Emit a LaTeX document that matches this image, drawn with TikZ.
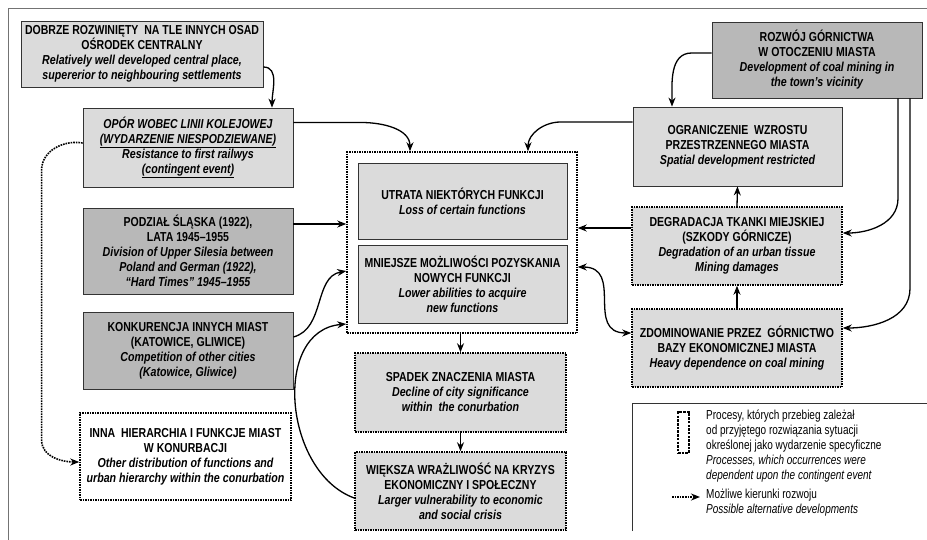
\documentclass[tikz,border=0pt]{standalone}
\usepackage{fontspec}
\setmainfont[FakeStretch=0.77]{Liberation Sans}
\newfontfamily\capfont[Ligatures=TeX,FakeStretch=0.81]{Liberation Sans}
\newfontfamily\enfont[Ligatures=TeX,FakeStretch=0.82]{Liberation Sans}
\usetikzlibrary{arrows.meta}
\definecolor{lightfill}{gray}{0.86}
\definecolor{darkfill}{gray}{0.72}
\definecolor{framegray}{gray}{0.45}
\newcommand{\plt}[1]{{\capfont\bfseries #1}}
\newcommand{\plit}[1]{{\capfont\bfseries\itshape #1}}
\newcommand{\ent}[1]{{\enfont\bfseries\itshape #1}}

\begin{document}
\begin{tikzpicture}[x=1pt,y=-1pt,>={Stealth[length=9pt,width=7pt]},
  every node/.style={font=\fontsize{13}{15}\selectfont,align=center,inner sep=0pt},
  lightbox/.style={draw=black!80,line width=0.8pt,fill=lightfill},
  darkbox/.style={lightbox,fill=darkfill},
  eventbox/.style={draw=black,line width=1.5pt,densely dotted,fill=#1},
  eventbox/.default=lightfill,
  link/.style={->,line width=1.3pt},
  both/.style={<->,line width=1.3pt},
  altlink/.style={->,line width=1.6pt,densely dotted}]
\useasboundingbox (0,0) rectangle (927,539);
\draw[framegray,line width=0.8pt] (8,545) |- (935,8);

% left column
\node[lightbox,minimum width=242,minimum height=66] (centre) at (142,54)
  {\plt{DOBRZE ROZWINIĘTY\ \ NA TLE INNYCH OSAD}\\\plt{OŚRODEK CENTRALNY}\\
   \ent{Relatively well developed central place,}\\\ent{supererior to neighbouring settlements}};
\node[lightbox,minimum width=210,minimum height=79] (resist) at (188,147.5)
  {\plit{OPÓR WOBEC LINII KOLEJOWEJ}\\\plit{\underline{(WYDARZENIE NIESPODZIEWANE)}}\\
   \ent{Resistance to first railwys}\\\ent{\underline{(contingent event)}}};
\node[darkbox,minimum width=210,minimum height=86] (division) at (188,251)
  {\plt{PODZIAŁ ŚLĄSKA (1922),}\\\plt{LATA 1945--1955}\\\ent{Division of Upper Silesia between}\\
   \ent{Poland and German (1922),}\\\ent{``Hard Times'' 1945--1955}};
\node[darkbox,minimum width=210,minimum height=77] (compet) at (188,350.5)
  {\plt{KONKURENCJA INNYCH MIAST}\\\plt{(KATOWICE, GLIWICE)}\\
   \ent{Competition of other cities}\\\ent{(Katowice, Gliwice)}};
\node[eventbox=white,minimum width=211,minimum height=87] (hierarchy) at (185.5,456.5)
  {\plt{INNA\ \ HIERARCHIA I FUNKCJE MIAST}\\\plt{W KONURBACJI}\\
   \ent{Other distribution of functions and}\\\ent{urban hierarchy within the conurbation}};

% middle column
\node[eventbox=white,minimum width=230,minimum height=181] (losses) at (462,242.5) {};
\node[lightbox,minimum width=209,minimum height=76] (loss) at (462.5,201)
  {\plt{UTRATA NIEKTÓRYCH FUNKCJI}\\\ent{Loss of certain functions}};
\node[lightbox,minimum width=209,minimum height=78] (lower) at (462.5,284)
  {\plt{MNIEJSZE MOŻLIWOŚCI POZYSKANIA}\\\plt{NOWYCH FUNKCJI}\\
   \ent{Lower abilities to acquire}\\\ent{new functions}};
\node[eventbox,minimum width=211,minimum height=79] (decline) at (460.5,392.5)
  {\plt{SPADEK ZNACZENIA MIASTA}\\\ent{Decline of city significance}\\\ent{within\ \ the conurbation}};
\node[eventbox,minimum width=211,minimum height=78] (crisis) at (460.5,491)
  {\plt{WIĘKSZA WRAŻLIWOŚĆ NA KRYZYS}\\\plt{EKONOMICZNY I SPOŁECZNY}\\
   \ent{Larger vulnerability to economic}\\\ent{and social crisis}};

% right column
\node[darkbox,minimum width=210,minimum height=76] (mining) at (817,60)
  {\plt{ROZWÓJ GÓRNICTWA}\\\plt{W OTOCZENIU MIASTA}\\
   \ent{Development of coal mining in}\\\ent{the town's vicinity}};
\node[lightbox,minimum width=209,minimum height=79] (spatial) at (737.5,146.5)
  {\plt{OGRANICZENIE\ \ WZROSTU}\\\plt{PRZESTRZENNEGO MIASTA}\\\ent{Spatial development restricted}};
\node[eventbox,minimum width=210,minimum height=78] (damage) at (737,246)
  {\plt{DEGRADACJA TKANKI MIEJSKIEJ}\\\plt{(SZKODY GÓRNICZE)}\\
   \ent{Degradation of an urban tissue}\\\ent{Mining damages}};
\node[eventbox,minimum width=210,minimum height=78] (dominance) at (737,348)
  {\plt{ZDOMINOWANIE PRZEZ\ \ GÓRNICTWO}\\\plt{BAZY EKONOMICZNEJ MIASTA}\\
   \ent{Heavy dependence on coal mining}};

% legend
\draw[black!80,line width=0.8pt] (632,531) |- (935,403);
\node[draw,line width=1.3pt,dash pattern=on 2.5pt off 1.2pt,minimum width=11,minimum height=41] (keybox) at (683.5,432.5) {};
\node[anchor=north west,align=left] (keytext) at (706,410)
  {Procesy, których przebieg zależał\\od przyjętego rozwiązania sytuacji\\
   określonej jako wydarzenie specyficzne\\\textit{Processes, which occurrences were}\\
   \textit{dependent upon the contingent event}};
\node[anchor=north west,align=left] (alttext) at (706,489)
  {Możliwe kierunki rozwoju\\\textit{Possible alternative developments}};
\coordinate (altA) at (672,497);
\coordinate (altB) at (700,497);
\draw[altlink] (altA) -- (altB);

% connectors
\draw[link] ([yshift=-13pt]centre.east) to[out=0,in=90] ([xshift=84pt]resist.north);
\draw[link] ([yshift=25pt]resist.east) -- ++(68,0) to[out=0,in=90] ([xshift=-52pt]losses.north);
\draw[link] ([yshift=24.5pt]spatial.west) -- ++(-72,0) to[out=180,in=90] ([xshift=66pt]losses.north);
\draw[link] ([yshift=27pt]division.east) -- ([yshift=18.5pt]losses.west);
\draw[link] ([yshift=13.5pt]compet.east) to[out=15,in=190] ([yshift=-28.5pt]losses.west);
\draw[link] ([yshift=-7pt]crisis.west) to[out=160,in=185,looseness=1.1] ([yshift=-81.5pt]losses.west);
\draw[altlink] ([yshift=4.5pt]resist.west) to[out=170,in=90] ++(-41,27) -- ++(0,270)
  to[out=270,in=180] ([yshift=-5.5pt]hierarchy.west);
\draw[link] (decline.north |- losses.south) -- (decline.north);
\draw[link] (decline.south) -- (crisis.north);
\coordinate (dmg) at ([yshift=18pt]damage.west);
\draw[link] (dmg) -- (dmg -| losses.east);
\draw[both] ([yshift=-24.5pt]losses.east) to[out=0,in=180,looseness=1.4] ([yshift=15pt]dominance.west);
\draw[link] (dominance.north) -- (damage.south);
\draw[link] (damage.north) -- (spatial.south);
\draw[link] ([yshift=7pt]mining.west) -- ++(-20,0) to[out=180,in=90] ([xshift=-65.5pt]spatial.north);
\draw[link] ([xshift=81pt]mining.south) -- ++(0,100) to[out=270,in=0] ([yshift=13pt]damage.east);
\draw[link] ([xshift=93pt]mining.south) -- ++(0,190) to[out=270,in=0] ([yshift=20pt]dominance.east);
\end{tikzpicture}
\end{document}
